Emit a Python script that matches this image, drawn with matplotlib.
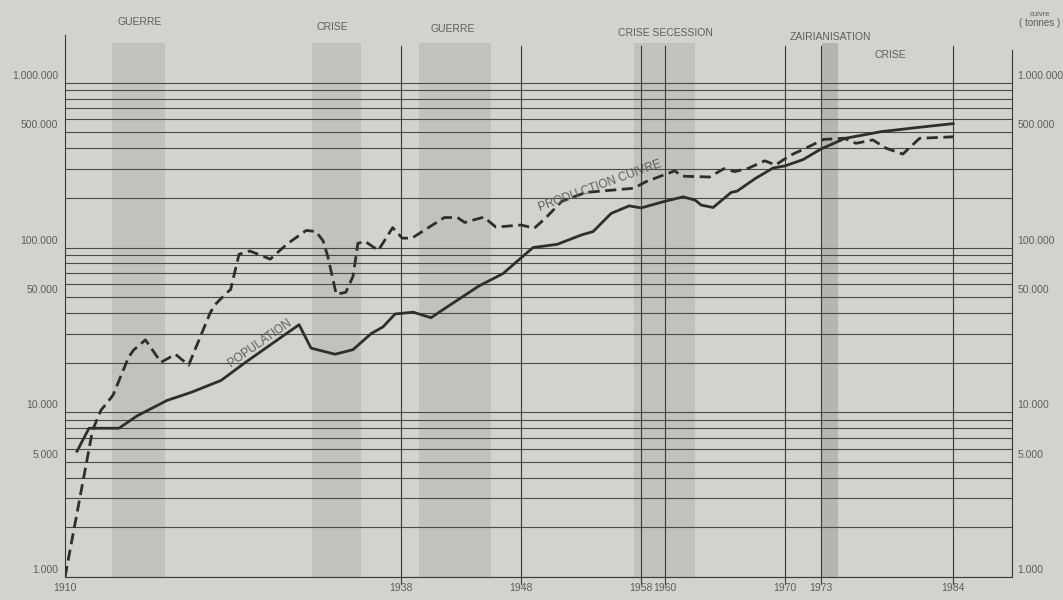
import matplotlib
matplotlib.use("Agg")
import matplotlib.pyplot as plt

plt.rcParams['font.family'] = ['Liberation Sans', 'DejaVu Sans']

# population (habitants)
annees_pop = [1911, 1912, 1914.5, 1916, 1918.5, 1920.5, 1923, 1925, 1929.5, 1930.5,
              1932.5, 1934, 1935.5, 1936.5, 1937.5, 1939, 1940.5, 1941.5, 1944.5, 1946.5,
              1947.5, 1949, 1951, 1953, 1954, 1955.5, 1957, 1958, 1960, 1961.5,
              1962.5, 1963, 1964, 1965.5, 1966, 1967.5, 1969, 1970, 1971.5, 1973,
              1975, 1978, 1981, 1984]
population = [5800, 8000, 8000, 9500, 11800, 13200, 15600, 20000, 34000, 24500,
              22500, 24000, 30000, 33000, 39500, 40500, 37500, 42000, 58500, 69500,
              80500, 100000, 104500, 119000, 125000, 161000, 179000, 174000, 191000, 203000,
              194000, 181000, 175000, 216000, 220000, 262000, 304000, 313000, 342000, 397000,
              460000, 505000, 535000, 565000]

# production de cuivre (tonnes)
annees_cu = [1910, 1912.3, 1913, 1913.5, 1914, 1915.3, 1915.7, 1916.7, 1918, 1919.2,
             1920.3, 1922.1, 1922.5, 1923.5, 1923.8, 1924.5, 1925.4, 1927.1, 1928.5, 1930.1,
             1930.9, 1931.5, 1931.9, 1932.6, 1933.4, 1934, 1934.4, 1935, 1936.1, 1937.3,
             1938.1, 1938.9, 1941.6, 1942.7, 1943.3, 1944.9, 1945.9, 1948, 1949.1, 1950,
             1951.4, 1953.4, 1957.4, 1958.4, 1960.8, 1961.4, 1963.7, 1964.9, 1965.8, 1966.9,
             1968.3, 1969.2, 1970.4, 1971.6, 1973.2, 1974.9, 1975.9, 1977.3, 1978.4, 1979.8,
             1981.2, 1984]
cuivre = [1000, 7800, 10300, 11400, 12700, 21600, 23800, 27500, 20100, 22500,
          19300, 40200, 45000, 53300, 55600, 91000, 95300, 85000, 105000, 127000,
          125000, 110000, 88000, 52000, 53500, 67000, 106000, 109000, 96000, 132000,
          114000, 114000, 152000, 152000, 142000, 153000, 133000, 137000, 131000, 150000,
          191000, 216000, 229000, 251000, 292000, 271000, 268000, 301000, 289000, 302000,
          336000, 317000, 362000, 397000, 453000, 461000, 429000, 450000, 401000, 369000,
          460000, 470000]

# periodes
periodes = [(1913.9, 1918.3), (1930.6, 1934.7), (1939.5, 1945.5), (1957.4, 1962.5)]
zairianisation = (1973.1, 1974.4)
evenements = ["GUERRE", "CRISE", "GUERRE", "CRISE SECESSION", "ZAIRIANISATION", "CRISE"]
evenements_x = [1916.25, 1932.3, 1942.3, 1960, 1973.75, 1978.75]
evenements_y = [1.024, 1.015, 1.011, 1.004, 0.996, 0.963]

reperes = [1938, 1948, 1958, 1960, 1970, 1973, 1984]
etiquettes_x = [1910] + reperes

valeurs_y = [1000, 5000, 10000, 50000, 100000, 500000, 1000000]
etiquettes_y = ["1.000", "5.000", "10.000", "50.000", "100.000", "500.000", "1.000.000"]

fond = '#d4d2cd'
trait = '#3a3a3a'
gris_txt = '#5e5e5e'

fig = plt.figure(figsize=(10.63, 6), dpi=100, facecolor=fond)
ax = fig.add_axes([65 / 1063, 23 / 600, (1012 - 65) / 1063, (577 - 35) / 600])
ax.set_facecolor(fond)
ax.set_yscale('log')
ax.set_xlim(1910, 1988.9)
ax.set_ylim(1000, 10 ** 6.29)

for a, b in periodes:
    ax.axvspan(a, b, ymin=0, ymax=0.985, color='#c3c1bb', lw=0, zorder=0)
ax.axvspan(*zairianisation, ymin=0, ymax=0.985, color='#b6b4ae', lw=0, zorder=0)

# papier semi-log
for k in (3, 4, 5):
    for m in range(1, 10):
        ax.axhline(m * 10 ** k, color='#4a4a4a', lw=0.8, zorder=1)
ax.axhline(10 ** 6, color='#4a4a4a', lw=0.8, zorder=1)

for an in reperes:
    ax.axvline(an, ymin=-0.012, ymax=0.98, color=trait, lw=0.8, zorder=1, clip_on=False)

ax.plot(annees_pop, population, color='#2e2e2e', lw=2.0, zorder=3)
ax.plot(annees_cu, cuivre, color='#2e2e2e', lw=2.0, ls=(0, (4, 2)), zorder=3)

ax.text(1926.25, 26300, "POPULATION", rotation=35, ha='center', va='center',
        fontsize=8.5, color=gris_txt, zorder=4)
ax.text(1954.6, 235000, "PRODU CTION CUIVRE", rotation=20, ha='center', va='center',
        fontsize=8.5, color=gris_txt, zorder=4)

ax.spines['top'].set_visible(False)
for s in ('left', 'right', 'bottom'):
    ax.spines[s].set_color(trait)
    ax.spines[s].set_linewidth(0.8)
ax.spines['right'].set_bounds(1000, 10 ** 6.2)

ax.set_yticks([])
ax.minorticks_off()
ax.set_xticks(etiquettes_x)
ax.set_xticklabels([str(a) for a in etiquettes_x])
ax.tick_params(axis='x', length=0, pad=4, labelsize=7.5, labelcolor=gris_txt)

for v, lbl in zip(valeurs_y, etiquettes_y):
    ax.annotate(lbl, xy=(0, v), xycoords=('axes fraction', 'data'), xytext=(-5, 5),
                textcoords='offset points', ha='right', va='center',
                fontsize=7.5, color=gris_txt)
    ax.annotate(lbl, xy=(1, v), xycoords=('axes fraction', 'data'), xytext=(4, 5),
                textcoords='offset points', ha='left', va='center',
                fontsize=7.5, color=gris_txt)

for lbl, x, y in zip(evenements, evenements_x, evenements_y):
    ax.text(x, y, lbl, transform=ax.get_xaxis_transform(), ha='center', va='center',
            fontsize=7.5, color=gris_txt)

fig.text(1040 / 1063, 1 - 14 / 600, "cuivre", ha='center', va='center', fontsize=5.5, color=gris_txt)
fig.text(1040 / 1063, 1 - 23 / 600, "( tonnes )", ha='center', va='center', fontsize=7, color=gris_txt)

fig.savefig("out.png", dpi=100, facecolor=fond)
